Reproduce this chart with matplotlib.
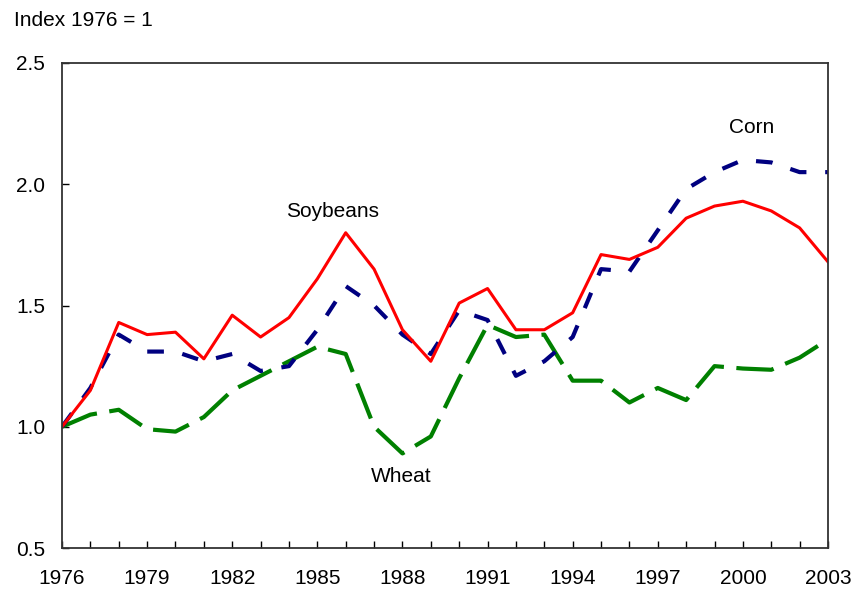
import numpy as np
import matplotlib
matplotlib.use('Agg')
import matplotlib.pyplot as plt

plt.rcParams['font.family'] = ['Liberation Sans', 'DejaVu Sans']

years = list(range(1976, 2004))
soybeans = [1.00, 1.15, 1.43, 1.38, 1.39, 1.28, 1.46, 1.37, 1.45, 1.61,
            1.80, 1.65, 1.40, 1.27, 1.51, 1.57, 1.40, 1.40, 1.47, 1.71,
            1.69, 1.74, 1.86, 1.91, 1.93, 1.89, 1.82, 1.68]
corn = [1.00, 1.16, 1.38, 1.31, 1.31, 1.27, 1.30, 1.23, 1.25, 1.40,
        1.58, 1.50, 1.38, 1.30, 1.48, 1.44, 1.21, 1.27, 1.37, 1.65,
        1.64, 1.81, 1.98, 2.05, 2.10, 2.09, 2.05, 2.05]
wheat = [1.00, 1.05, 1.07, 0.99, 0.98, 1.04, 1.15, 1.21, 1.27, 1.33,
         1.30, 1.00, 0.89, 0.96, 1.20, 1.42, 1.37, 1.38, 1.19, 1.19,
         1.10, 1.16, 1.11, 1.25, 1.24, 1.235, 1.285, 1.36]

fig = plt.figure(figsize=(8.52, 5.93), dpi=100)
ax = fig.add_axes([62/852., 45/593., (828-62)/852., (548-63)/593.])

ax.plot(years, wheat, color='#008000', lw=3, dashes=(9, 3))
ax.plot(years, corn, color='#000080', lw=3, dashes=(4, 4.5))
ax.plot(years, soybeans, color='#ff0000', lw=2.2)

ax.set_xlim(1976, 2003)
ax.set_ylim(0.5, 2.5)
ax.set_xticks(years, minor=True)
ax.set_xticks(range(1976, 2004, 3))
ax.set_yticks([0.5, 1.0, 1.5, 2.0, 2.5])
ax.set_yticklabels(['0.5', '1.0', '1.5', '2.0', '2.5'])
ax.tick_params(axis='x', which='both', direction='in', length=5, width=1, pad=15, labelsize=15)
ax.tick_params(axis='y', direction='in', length=5, width=1, pad=12, labelsize=15)
for s in ax.spines.values():
    s.set_linewidth(1.3)
    s.set_color('#333333')

ax.text(1985.55, 1.886, 'Soybeans', fontsize=15, ha='center', va='center')
ax.text(2000.3, 2.236, 'Corn', fontsize=15, ha='center', va='center')
ax.text(1987.95, 0.793, 'Wheat', fontsize=15, ha='center', va='center')
fig.text(14/852., 1 - 20/593., 'Index 1976 = 1', fontsize=15, ha='left', va='center')

plt.savefig('out.png', dpi=100)
